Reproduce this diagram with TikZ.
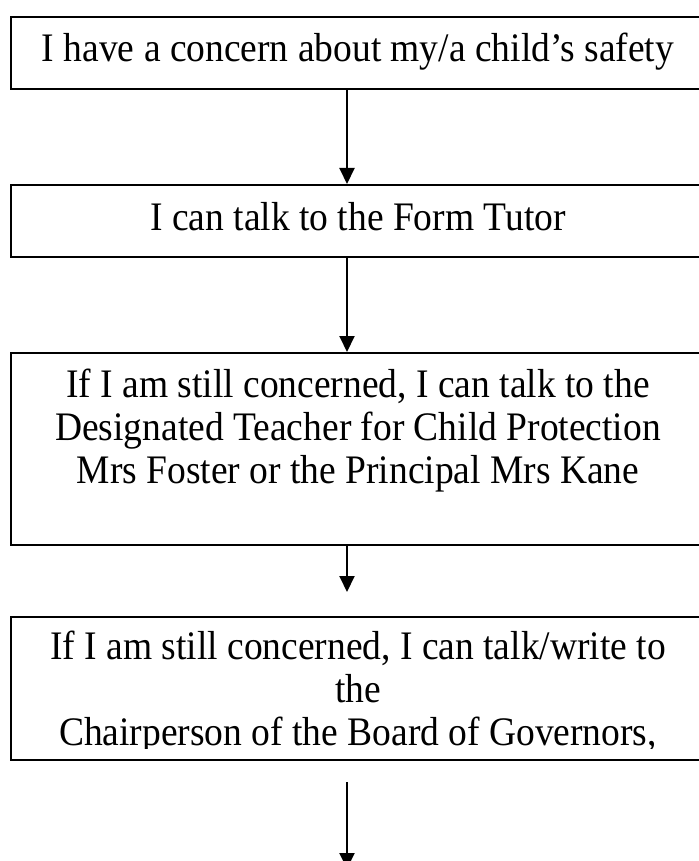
\documentclass[tikz,border=0pt]{standalone}
\usepackage{fontspec}
\setmainfont{Liberation Serif}
\usetikzlibrary{arrows.meta}
\begin{document}
\begin{tikzpicture}[x=1pt,y=1pt,
  box/.style={draw, line width=1.8pt, minimum width=696pt, anchor=north west, inner sep=0pt},
  txt/.style={anchor=base, inner sep=0pt, align=center, yscale=1.08, font=\fontsize{37.5}{39.8}\selectfont},
  arr/.style={line width=2pt, -{Triangle[width=15pt,length=16pt]}}]
\useasboundingbox (0,0) rectangle (698,-861);
\coordinate (ax) at (347,0);
\node[box, minimum height=72pt] (b1) at (10,-16) {};
\node[box, minimum height=72pt] (b2) at (10,-184) {};
\node[box, minimum height=192pt] (b3) at (10,-352) {};
\node[box, minimum height=143pt] (b4) at (10,-616) {};
\node[txt] (t1) at (358,-62) {I have a concern about my/a child’s safety};
\node[txt] (t2) at (358,-230) {I can talk to the Form Tutor};
\node[txt] (t3) at (358,-483) {If I am still concerned, I can talk to the\\Designated Teacher for Child Protection\\Mrs Foster or the Principal Mrs Kane};
\begin{scope}
\clip (10,-616) rectangle (706,-748);
\node[txt] (t4) at (358,-745) {If I am still concerned, I can talk/write to\\the\\Chairperson of the Board of Governors,};
\end{scope}
\coordinate (e3) at (347,-592);
\coordinate (s5) at (347,-782);
\coordinate (e5) at (347,-869);
\draw[arr] (b1.south -| ax) -- (b2.north -| ax);
\draw[arr] (b2.south -| ax) -- (b3.north -| ax);
\draw[arr] (b3.south -| ax) -- (e3);
\draw[arr] (s5) -- (e5);
\end{tikzpicture}
\end{document}
